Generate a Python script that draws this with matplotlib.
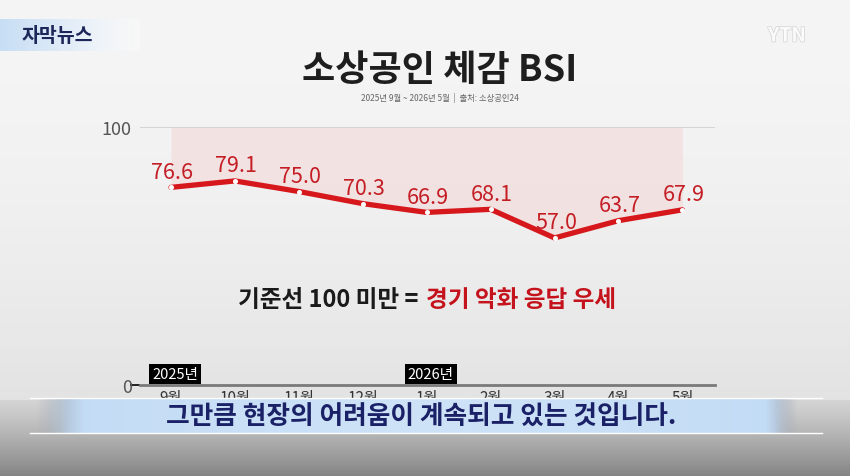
import matplotlib
matplotlib.use("Agg")
import matplotlib.pyplot as plt
import matplotlib.patheffects as pe
import numpy as np

plt.rcParams['font.family'] = ['Noto Sans CJK KR', 'DejaVu Sans']

# data: 소상공인 체감 BSI, 2025년 9월 ~ 2026년 5월
months = ["9월", "10월", "11월", "12월", "1월", "2월", "3월", "4월", "5월"]
bsi = [76.6, 79.1, 75.0, 70.3, 66.9, 68.1, 57.0, 63.7, 67.9]
year_marks = {"2025년": 0, "2026년": 4}
y_ticks = [0, 100]

W, H = 850, 477
fig = plt.figure(figsize=(W / 100, H / 100), dpi=100)

# background gradient
bg = fig.add_axes([0, 0, 1, 1], zorder=-2)
rows = np.linspace(0, 1, H)[:, None]
top = np.array([0.96, 0.96, 0.96])
mid = np.array([0.86, 0.86, 0.86])
shade = top + (mid - top) * rows[..., None] ** 2
img = np.repeat(shade, 60, axis=1)
bg.imshow(img, aspect='auto', extent=[0, W, H, 0])
bg.set_xlim(0, W)
bg.set_ylim(H, 0)
bg.axis('off')

# main chart
ax = fig.add_axes([140 / W, (H - 386) / H, 575 / W, 258 / H])
ax.set_facecolor('none')
x = np.arange(len(months))
ax.fill_between(x, bsi, 100, color='#f4d0d0', alpha=0.45, lw=0)
ax.axhline(100, color='#d0d0d0', lw=1.2, zorder=1)
ax.plot(x, bsi, color='#d6181c', lw=3.8, solid_joinstyle='round',
        solid_capstyle='round', zorder=3)
ax.plot(x, bsi, 'o', ms=2.6, color='white', zorder=4)
for xi, v in zip(x, bsi):
    ax.annotate(f"{v:.1f}", (xi, v), xytext=(1, 7), textcoords='offset points',
                ha='center', va='baseline', fontsize=15.5, color='#c41d24', zorder=5)

for label, xi in year_marks.items():
    ax.annotate(label, (xi, 0), xytext=(3, 3), textcoords='offset points',
                ha='center', va='bottom', fontsize=10.5, color='white',
                bbox=dict(boxstyle='square,pad=0.2', fc='black', ec='none'))

ax.set_xlim(-0.485, 8.51)
ax.set_ylim(0, 100)
ax.set_xticks(x)
ax.set_xticklabels(months, fontsize=11, color='#333333')
ax.set_yticks(y_ticks)
ax.set_yticklabels([str(t) for t in y_ticks], fontsize=13, color='#555555')
ax.tick_params(axis='x', length=0, pad=3)
ax.tick_params(axis='y', length=0, pad=6)
ax.yaxis.get_major_ticks()[0].tick1line.set_markersize(7)
ax.yaxis.get_major_ticks()[0].tick1line.set_color('#777777')
ax.yaxis.get_major_ticks()[0].tick1line.set_markeredgewidth(1.2)
for s in ['top', 'right', 'left']:
    ax.spines[s].set_visible(False)
ax.spines['bottom'].set_color('#7a7a7a')
ax.spines['bottom'].set_linewidth(2)

# title and notes
fig.text(440 / W, 1 - 70 / H, "소상공인 체감 BSI", ha='center', va='center',
         fontsize=26, fontweight='heavy', color='#1e1e1e')
fig.text(440 / W, 1 - 98 / H, "2025년 9월 ~ 2026년 5월  |  출처: 소상공인24",
         ha='center', va='center', fontsize=6, color='#666666')
fig.text(418 / W, 1 - 300 / H, "기준선 100 미만 =", ha='right', va='center',
         fontsize=17, fontweight='bold', color='#1a1a1a')
fig.text(426 / W, 1 - 300 / H, "경기 악화 응답 우세", ha='left', va='center',
         fontsize=17, fontweight='heavy', color='#c4131c')

# top-left tag
tag = fig.add_axes([0, 1 - 52 / H, 140 / W, 32 / H], zorder=4)
grad = np.linspace(0, 1, 140)
tag_rgb = np.zeros((1, 140, 4))
tag_rgb[..., 0] = 0.78 + 0.21 * grad
tag_rgb[..., 1] = 0.87 + 0.12 * grad
tag_rgb[..., 2] = 0.96 + 0.03 * grad
tag_rgb[..., 3] = 1 - 0.6 * grad ** 3
tag.imshow(tag_rgb, aspect='auto', extent=[0, 1, 0, 1])
tag.axis('off')
fig.text(22 / W, 1 - 37 / H, "자막뉴스", ha='left', va='center', fontsize=14,
         fontweight='bold', color='#1c2658', zorder=6)

# logo
fig.text(787 / W, 1 - 37 / H, "YTN", ha='center', va='center', fontsize=14,
         fontweight='bold', color='#fbfbfb', zorder=6,
         path_effects=[pe.withStroke(linewidth=1.2, foreground='#d8d8d8')])

# bottom caption area
low = fig.add_axes([0, 0, 1, 80 / H], zorder=5)
low.set_xlim(0, W)
low.set_ylim(80, 0)
r = np.linspace(0, 1, 80)[:, None]
gray = np.repeat((0.84 - 0.32 * r ** 1.2)[..., None], 3, axis=2)
gray = np.repeat(gray, 40, axis=1)
alpha = np.where(np.linspace(0, 1, 80) < 0.05, 0.0, 1.0)[:, None, None]
gray = np.concatenate([gray, np.repeat(alpha, 40, axis=1)], axis=2)
low.imshow(gray, aspect='auto', extent=[0, W, 80, 0])

cx = np.linspace(0, 1, 400)
bar = np.zeros((1, 400, 4))
edge = np.clip(np.minimum((cx - 0.02) / 0.06, (0.97 - cx) / 0.04), 0, 1)
center = 1 - np.abs(cx - 0.5) * 2
bar[..., 0] = 0.62 + (0.76 - 0.62) * edge + 0.05 * center
bar[..., 1] = 0.65 + (0.86 - 0.65) * edge + 0.03 * center
bar[..., 2] = 0.70 + (0.96 - 0.70) * edge + 0.01 * center
bar[..., 3] = np.clip(edge * 1.5, 0, 1) * (cx > 0.02) * (cx < 0.97)
low.imshow(bar, aspect='auto', extent=[20, 822, 37, 2])
low.plot([30, 822], [2, 2], color='white', lw=1)
low.plot([30, 822], [37, 37], color='white', lw=1)
low.text(421, 20, "그만큼 현장의 어려움이 계속되고 있는 것입니다.", ha='center',
         va='center', fontsize=18.5, fontweight='bold', color='#1b2166')
low.set_xlim(0, W)
low.set_ylim(80, 0)
low.axis('off')

fig.savefig("out.png", dpi=100)
